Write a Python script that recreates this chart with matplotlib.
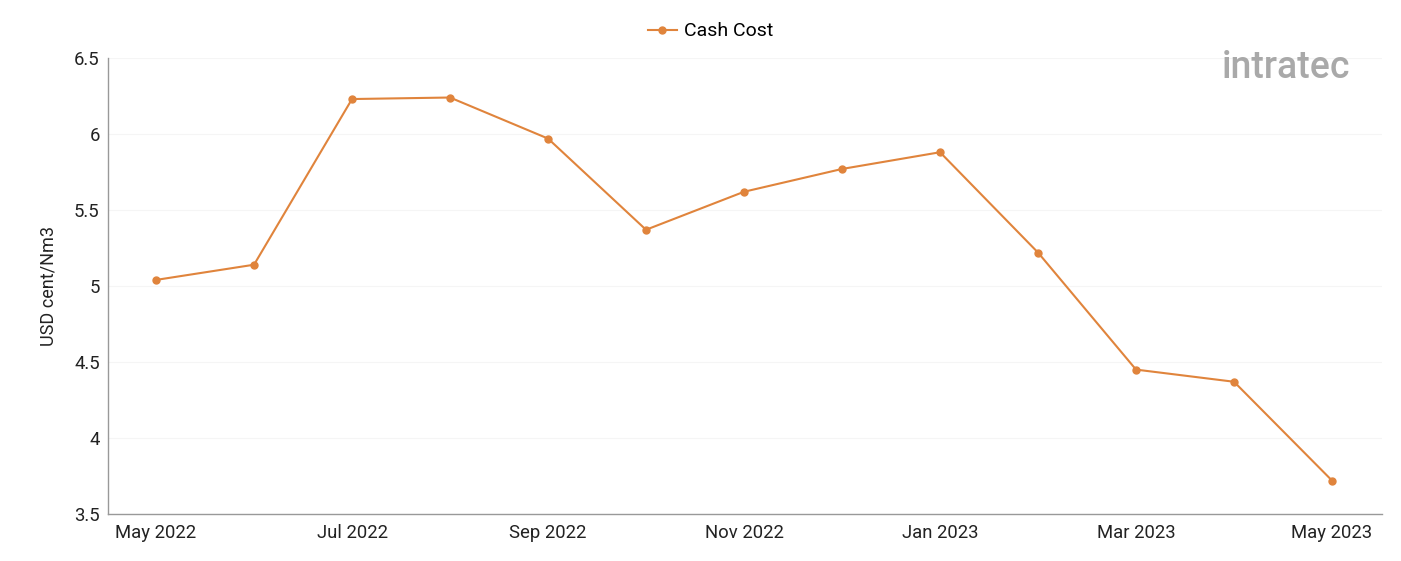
import matplotlib.pyplot as plt

plt.rcParams["font.family"] = ["Roboto", "DejaVu Sans"]

MONTHS = ["May 2022", "Jun 2022", "Jul 2022", "Aug 2022", "Sep 2022", "Oct 2022", "Nov 2022",
          "Dec 2022", "Jan 2023", "Feb 2023", "Mar 2023", "Apr 2023", "May 2023"]
CASH_COST = [5.04, 5.14, 6.23, 6.24, 5.97, 5.37, 5.62, 5.77, 5.88, 5.22, 4.45, 4.37, 3.72]
Y_TICKS = [3.5, 4, 4.5, 5, 5.5, 6, 6.5]
Y_TICK_LABELS = ["3.5", "4", "4.5", "5", "5.5", "6", "6.5"]

LINE_COLOR = "#E0843C"


def run() -> None:
    fig = plt.figure(figsize=(14.01, 5.61), dpi=100)
    ax = fig.add_axes([108 / 1401, 1 - 514 / 561, (1382 - 108) / 1401, (514 - 58) / 561])

    x = list(range(len(MONTHS)))
    ax.plot(x, CASH_COST, color=LINE_COLOR, linewidth=1.5, marker="o", markersize=5,
            label="Cash Cost")

    ax.set_xlim(-0.49, len(MONTHS) - 1 + 0.51)
    ax.set_ylim(3.5, 6.5)
    ax.set_xticks(x[::2])
    ax.set_xticklabels(MONTHS[::2], fontsize=13.3, color="#222222")
    ax.set_yticks(Y_TICKS)
    ax.set_yticklabels(Y_TICK_LABELS, fontsize=13.3, color="#222222")
    ax.tick_params(axis="both", length=0)
    ax.tick_params(axis="x", pad=7)
    ax.tick_params(axis="y", pad=6)
    ax.set_ylabel("USD cent/Nm3", fontsize=13, color="#222222", labelpad=12)

    ax.grid(axis="y", color="#f5f5f5", linewidth=0.8)
    ax.set_axisbelow(True)
    for side in ["top", "right"]:
        ax.spines[side].set_visible(False)
    for side in ["left", "bottom"]:
        ax.spines[side].set_color("#999999")
        ax.spines[side].set_linewidth(1)

    ax.legend(loc="lower center", bbox_to_anchor=(0.473, 1.0), frameon=False, fontsize=14,
              handlelength=1.5, handletextpad=0.4, borderaxespad=0.5)

    fig.text(1222 / 1401, 1 - 67 / 561, "intratec", fontsize=27, fontweight="medium",
             color="#a0a0a0", va="center", ha="left", alpha=0.9)

    fig.savefig("out.png", dpi=100)
    plt.close(fig)


if __name__ == "__main__":
    run()
